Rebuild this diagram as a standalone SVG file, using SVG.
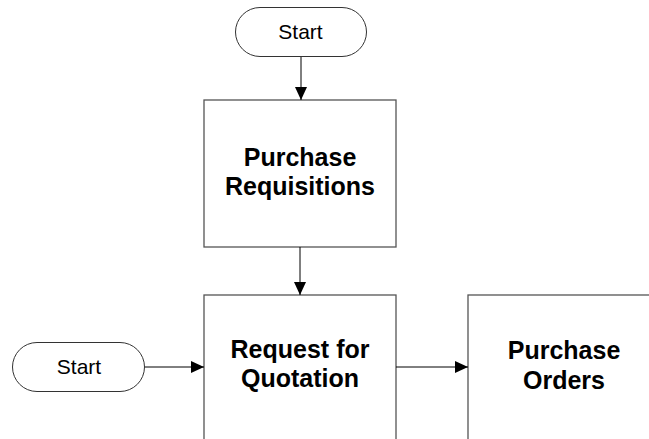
<svg xmlns="http://www.w3.org/2000/svg" width="649" height="439" viewBox="0 0 649 439">
<style>
.box{fill:#fff;stroke:#555;stroke-width:1.3}
.term{fill:#fff;stroke:#333;stroke-width:1}
.lbl{font-family:"Liberation Sans",Arial,sans-serif;font-weight:bold;font-size:25px;fill:#000;text-anchor:middle}
.st{font-family:"Liberation Sans",Arial,sans-serif;font-size:21px;fill:#000;text-anchor:middle}
.conn{stroke:#000;stroke-width:1;fill:none}
</style>
<defs>
<marker id="arr" markerUnits="userSpaceOnUse" markerWidth="14" markerHeight="12" refX="13" refY="6" orient="auto">
<path d="M0,0 L13,6 L0,12 Z" fill="#000"/>
</marker>
</defs>
<rect width="649" height="439" fill="#fff"/>
<g id="start-top">
<rect class="term" x="235.5" y="7.5" width="131" height="49" rx="24.5"/>
<text class="st" x="300.5" y="38.5">Start</text>
</g>
<g id="purchase-requisitions">
<rect class="box" x="204" y="100" width="192" height="147"/>
<text class="lbl" x="300" y="166">Purchase</text>
<text class="lbl" x="300" y="195">Requisitions</text>
</g>
<g id="start-left">
<rect class="term" x="12.5" y="342.5" width="132" height="49" rx="24.5"/>
<text class="st" x="79" y="374">Start</text>
</g>
<g id="request-for-quotation">
<rect class="box" x="204" y="295" width="192" height="160"/>
<text class="lbl" x="300" y="358">Request for</text>
<text class="lbl" x="300" y="387">Quotation</text>
</g>
<g id="purchase-orders">
<rect class="box" x="468" y="295" width="192" height="160"/>
<text class="lbl" x="564" y="359">Purchase</text>
<text class="lbl" x="564" y="389">Orders</text>
</g>
<g id="connectors">
<line class="conn" x1="301" y1="57" x2="301" y2="100" marker-end="url(#arr)"/>
<line class="conn" x1="300" y1="247" x2="300" y2="295" marker-end="url(#arr)"/>
<line class="conn" x1="145" y1="367" x2="204" y2="367" marker-end="url(#arr)"/>
<line class="conn" x1="396" y1="367" x2="468" y2="367" marker-end="url(#arr)"/>
</g>
</svg>
